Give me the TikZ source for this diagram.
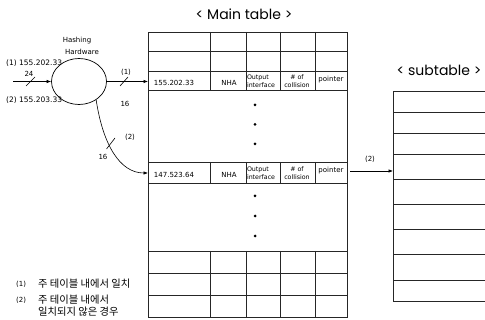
\documentclass[tikz,border=0pt]{standalone}
\usepackage{fontspec}
\setmainfont{DejaVu Sans}
\newfontfamily\krfont{Noto Sans CJK KR}
\newfontfamily\titlefont{Poppins}
\usetikzlibrary{arrows.meta,shapes.geometric}

\begin{document}
\begin{tikzpicture}[x=1pt,y=-1pt,
  grid/.style={line width=0.7pt, draw=black!85},
  lbl/.style={font=\fontsize{7}{8}\selectfont, inner sep=0pt},
  inlbl/.style={font=\fontsize{7.5}{8}\selectfont, inner sep=0pt},
  cell/.style={font=\fontsize{7}{8}\selectfont, inner sep=0pt},
  twocell/.style={font=\fontsize{6.3}{8}\selectfont, inner sep=0pt, align=left},
  arr/.style={line width=0.6pt, -{Latex[length=4.5pt,width=3.5pt]}},
  tick/.style={line width=0.6pt},
  dotmark/.style={circle, fill=black, inner sep=0pt, minimum size=3pt},
  tabtitle/.style={font=\titlefont\fontsize{14}{16}\selectfont, inner sep=0pt},
  legend/.style={font=\krfont\fontsize{10.3}{12}\selectfont, inner sep=0pt, align=left},
]
\useasboundingbox (0,0) rectangle (485,320);

% ---- main table ----
\node[tabtitle] (maintitle) at (244,14) {< Main table >};
\draw[grid] (148,32) rectangle (347,317);
\foreach \y in {51,71,90,162,183,251,273,295}
  \draw[grid] (148,\y) -- (347,\y);
\foreach \x in {210,246,280,315} {
  \draw[grid] (\x,32) -- (\x,90);
  \draw[grid] (\x,162) -- (\x,183);
  \draw[grid] (\x,251) -- (\x,317);
}

% entry found by hashing
\node[cell] (ip1)  at (174,82.5) {155.202.33};
\node[cell] (nha1) at (229,82.5) {NHA};
\node[twocell, anchor=west] (out1) at (246.8,80.8) {Output\\interface};
\node[twocell, align=center] (col1) at (297,80.8) {\# of\\collision};
\node[cell] (ptr1) at (331,80) {pointer};

% entry with a collision
\node[cell] (ip2)  at (174,174.5) {147.523.64};
\node[cell] (nha2) at (229,174.5) {NHA};
\node[twocell, anchor=west] (out2) at (246.8,173) {Output\\interface};
\node[twocell, align=center] (col2) at (297,173) {\# of\\collision};
\node[cell] (ptr2) at (331,171) {pointer};

% elided rows
\foreach \y [count=\i] in {105,124.5,144,196,216,236}
  \node[dotmark] (dot\i) at (255,\y) {};

% ---- subtable ----
\node[tabtitle] (subtitle) at (439,70) {< subtable >};
\draw[grid] (486,91) -- (393,91) -- (393,301) -- (486,301);
\foreach \y in {112,133,154,179,204,229,254,280}
  \draw[grid] (393,\y) -- (486,\y);

% ---- hashing hardware ----
\node[ellipse, draw, line width=0.7pt, minimum width=55pt, minimum height=46pt, inner sep=0pt] (hash) at (79,81.5) {};
\node[lbl] (hw1) at (77,41) {Hashing};
\node[lbl] (hw2) at (82,52) {Hardware};

\coordinate (src) at (13,81.5);
\coordinate (row1) at (148,81.5);
\coordinate (row2) at (148,173);
\coordinate (p2out) at (350,171);
\coordinate (subin) at (393,171);

\draw[arr] (src) -- (hash.west);
\draw[arr] (hash.east) -- (row1);
\draw[arr] (hash.-47) .. controls (103,145) and (120,173) .. (row2);
\draw[arr] (p2out) -- (subin);

% bus width ticks
\draw[tick] (26,86) -- (35,77);
\draw[tick] (120,86) -- (128,77);
\draw[tick] (106.5,149) -- (115,138);

\node[inlbl, anchor=west] (a1) at (6,63) {(1) 155.202.33};
\node[inlbl, anchor=west] (a2) at (6,100.5) {(2) 155.203.33};
\node[lbl] (w0) at (29,74) {24};
\node[lbl] (c1) at (126,72.5) {(1)};
\node[lbl] (w1) at (125,104) {16};
\node[lbl] (c2) at (130,137) {(2)};
\node[lbl] (w2) at (103,157) {16};
\node[lbl] (c3) at (370,159.5) {(2)};

% ---- legend ----
\node[lbl, anchor=west] (k1) at (16,284) {(1)};
\node[legend, anchor=west] (t1) at (38,284) {주 테이블 내에서 일치};
\node[lbl, anchor=west] (k2) at (16,300) {(2)};
\node[legend, anchor=west] (t2) at (38,306) {주 테이블 내에서\\일치되지 않은 경우};
\end{tikzpicture}
\end{document}
